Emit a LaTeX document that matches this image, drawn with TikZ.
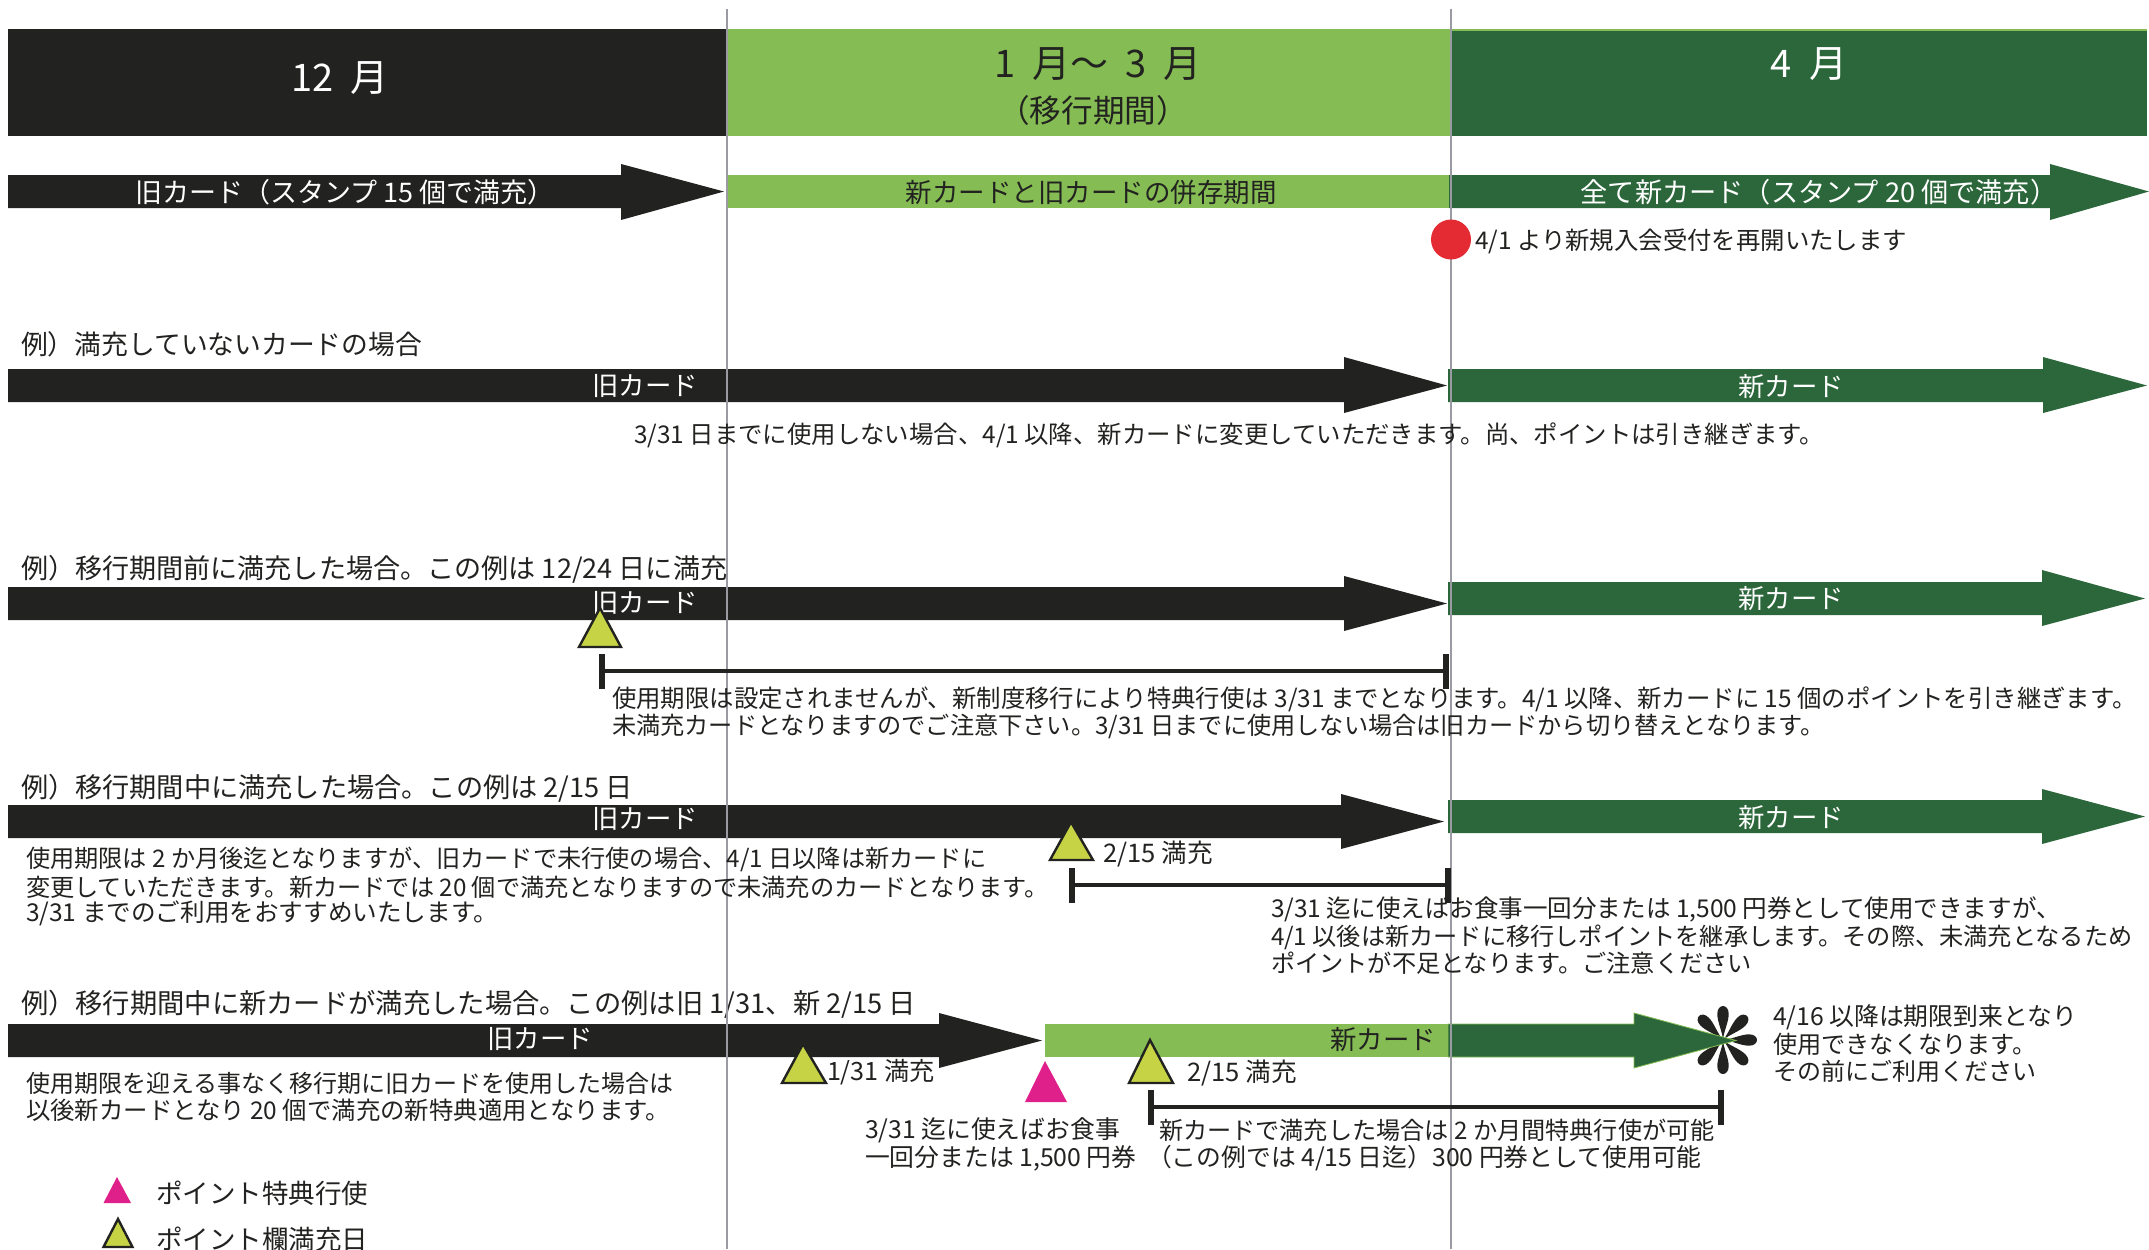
\documentclass[tikz,border=0pt]{standalone}
\usepackage{fontspec}
\setmainfont{Noto Sans CJK JP}
\definecolor{ink}{HTML}{222220}
\definecolor{lgreen}{HTML}{85BD54}
\definecolor{dgreen}{HTML}{2C673B}
\definecolor{olive}{HTML}{C5D345}
\definecolor{redd}{HTML}{E42A32}
\definecolor{magen}{HTML}{E0208A}
\definecolor{greyl}{HTML}{9A9AA2}
\tikzset{
  x=0.5pt,y=-0.5pt,
  fs/.style={font=\fontsize{#1pt}{#1pt}\selectfont},
  lab/.style={inner sep=0pt,outer sep=0pt,anchor=west,text=ink,yshift=-0.6pt,fs=12.2},
  labc/.style={lab,anchor=center},
  wlab/.style={labc,text=white,fs=13.2,yshift=0.5pt},
  dlab/.style={labc,text=ink,fs=13.2,yshift=0.5pt},
  ttl/.style={lab,fs=13.4},
  bigw/.style={labc,text=white,fs=19},
  bigd/.style={labc,text=ink,fs=19},
  guide/.style={draw=greyl,line width=1pt},
  vtick/.style={draw=ink,line width=2.7pt},
  hbar/.style={draw=ink,line width=1.6pt},
  fulltri/.style={fill=olive,draw=ink,line width=1.2pt},
  magtri/.style={fill=magen},
  petal/.style={fill=ink},
}
\newcommand{\arrowshape}[7]{% x0 xhead xtip ytop ybot headtop headbot
  (#1,#4) -- (#2,#4) -- (#2,#6) -- (#3,{(#4+#5)/2}) -- (#2,#7) -- (#2,#5) -- (#1,#5) -- cycle}
\newcommand{\gp}{\hspace{.45em}}
\begin{document}
\begin{tikzpicture}
\useasboundingbox (0,0) rectangle (2149,1249);
% header bands
\fill[ink] (8,29) rectangle (727,136);
\fill[lgreen] (727,29) rectangle (1451,136);
\fill[lgreen] (1451,29) rectangle (2147,31);
\fill[dgreen] (1451,31) rectangle (2147,136);
\node[bigw] (h1) at (340,77) {12\gp 月};
\node[bigd] (h2) at (1098,63) {1\gp 月～\gp 3\gp 月};
\node[labc,fs=15.8] (h2b) at (1093,109) {（移行期間）};
\node[bigw] (h3) at (1809,63) {4\gp 月};
% row 1
\fill[ink] \arrowshape{8}{621}{724}{175}{208}{164}{220};
\fill[lgreen] (727,175) rectangle (1449,208);
\fill[dgreen] \arrowshape{1449}{2050}{2149}{175}{208}{164}{220};
\node[wlab,fs=13.5] (r1a) at (345,192) {旧カード（スタンプ 15 個で満充）};
\node[dlab,fs=13.25] (r1b) at (1091,192) {新カードと旧カードの併存期間};
\node[wlab,fs=13.6] (r1c) at (1819,192) {全て新カード（スタンプ 20 個で満充）};
% row 2
\node[ttl] (t2) at (21,343) {例）満充していないカードの場合};
\fill[ink] \arrowshape{8}{1344}{1447}{369}{402}{357}{413};
\fill[dgreen] \arrowshape{1448}{2043}{2147}{369}{402}{357}{413};
\node[wlab] (r2a) at (645,386) {旧カード};
\node[wlab] (r2b) at (1791,386) {新カード};
% row 3
\node[ttl,fs=13.55] (t3) at (21,568) {例）移行期間前に満充した場合。この例は 12/24 日に満充};
\fill[ink] \arrowshape{8}{1344}{1447}{587}{620}{576}{631};
\fill[dgreen] \arrowshape{1448}{2042}{2145}{582}{615}{570}{626};
\node[wlab] (r3a) at (645,603) {旧カード};
\node[wlab] (r3b) at (1791,598) {新カード};
% row 4
\node[ttl,fs=13.6] (t4) at (21,787) {例）移行期間中に満充した場合。この例は 2/15 日};
\fill[ink] \arrowshape{8}{1341}{1444}{805}{838}{794}{849};
\fill[dgreen] \arrowshape{1448}{2042}{2145}{800}{833}{789}{844};
\node[wlab] (r4a) at (645,819) {旧カード};
\node[wlab] (r4b) at (1791,817) {新カード};
% row 5
\node[ttl,fs=13.65] (t5) at (21,1003) {例）移行期間中に新カードが満充した場合。この例は旧 1/31、新 2/15 日};
\fill[ink] \arrowshape{8}{939}{1042}{1024}{1057}{1013}{1068};
\fill[lgreen] (1045,1024) rectangle (1448,1057);
% star
\foreach \a in {0,45,...,315}{
  \fill[petal,rotate around={\a:(1723,1040)}] (1723,1040) .. controls (1722.5,1032) and (1717.3,1022) .. (1717.3,1014) .. controls (1717.3,1009) and (1720,1006) .. (1723,1006) .. controls (1726,1006) and (1728.7,1009) .. (1728.7,1014) .. controls (1728.7,1022) and (1723.5,1032) .. (1723,1040) -- cycle;
}
\path[fill=dgreen,draw=lgreen,line width=0.4pt] \arrowshape{1448}{1634}{1736}{1024}{1057}{1013}{1068};
\fill[lgreen] (1447,1024) rectangle (1448,1057);
\node[wlab] (r5a) at (540,1039) {旧カード};
\node[dlab] (r5b) at (1383,1039) {新カード};
% guides
\draw[guide] (727,9) -- (727,1249);
\draw[guide] (1451,9) -- (1451,1249);
\fill[redd] (1451,239.5) circle[radius=20];
% texts
\node[lab] (n1) at (1475,240) {4/1 より新規入会受付を再開いたします};
\node[lab] (n2) at (634,434) {3/31 日までに使用しない場合、4/1 以降、新カードに変更していただきます。尚、ポイントは引き継ぎます。};
\node[lab] (n3) at (612,698) {使用期限は設定されませんが、新制度移行により特典行使は 3/31 までとなります。4/1 以降、新カードに 15 個のポイントを引き継ぎます。};
\node[lab,fs=12.1] (n3b) at (612,725) {未満充カードとなりますのでご注意下さい。3/31 日までに使用しない場合は旧カードから切り替えとなります。};
\node[lab,fs=12.1] (n4a) at (26,858) {使用期限は 2 か月後迄となりますが、旧カードで未行使の場合、4/1 日以降は新カードに};
\node[lab,fs=12.1] (n4b) at (26,886) {変更していただきます。新カードでは 20 個で満充となりますので未満充のカードとなります。};
\node[lab,fs=12.3] (n4c) at (26,912) {3/31 までのご利用をおすすめいたします。};
\node[lab,fs=12.8] (n4d) at (1103,853) {2/15 満充};
\node[lab,fs=12.27] (n4e) at (1271,908) {3/31 迄に使えばお食事一回分または 1,500 円券として使用できますが、};
\node[lab,fs=12.1] (n4f) at (1271,936) {4/1 以後は新カードに移行しポイントを継承します。その際、未満充となるため};
\node[lab,fs=12.1] (n4g) at (1271,962) {ポイントが不足となります。ご注意ください};
\node[lab,fs=12] (n5a) at (26,1082) {使用期限を迎える事なく移行期に旧カードを使用した場合は};
\node[lab] (n5b) at (26,1109) {以後新カードとなり 20 個で満充の新特典適用となります。};
\node[lab,fs=12.6] (n5c) at (827,1071) {1/31 満充};
\node[lab,fs=12.8] (n5d) at (1187,1072) {2/15 満充};
\node[lab,fs=12.4] (n5e) at (865,1129) {3/31 迄に使えばお食事};
\node[lab,fs=12.4] (n5f) at (865,1157) {一回分または 1,500 円券};
\node[lab,fs=12.08] (n5g) at (1159,1129) {新カードで満充した場合は 2 か月間特典行使が可能};
\node[lab,fs=12.4] (n5h) at (1147,1157) {（この例では 4/15 日迄）300 円券として使用可能};
\node[lab,fs=12.4] (n5i) at (1773,1016) {4/16 以降は期限到来となり};
\node[lab,fs=12.1] (n5j) at (1773,1043) {使用できなくなります。};
\node[lab,fs=12] (n5k) at (1773,1070) {その前にご利用ください};
\node[ttl,fs=13.25] (l1) at (156,1192) {ポイント特典行使};
\node[ttl,fs=13.25] (l2) at (156,1238) {ポイント欄満充日};
% triangles
\path[fulltri] (600,608) -- (621,647) -- (579,647) -- cycle;
\path[fulltri] (1071,822) -- (1093,860) -- (1050,860) -- cycle;
\path[fulltri] (803,1044) -- (826,1083) -- (782,1083) -- cycle;
\path[fulltri] (1150,1040) -- (1173,1083) -- (1129,1083) -- cycle;
\path[fulltri] (118,1219) -- (132.5,1247) -- (103.5,1247) -- cycle;
\fill[magtri] (1045,1061) -- (1067,1102) -- (1025,1102) -- cycle;
\fill[magtri] (117,1177) -- (131,1203) -- (103.5,1203) -- cycle;
% brackets
\coordinate (b1l) at (602,671); \coordinate (b1r) at (1446,671);
\draw[hbar] (b1l) -- (b1r);
\draw[vtick] (602,654) -- (602,689);
\draw[vtick] (1446,654) -- (1446,689);
\coordinate (b2l) at (1072,885); \coordinate (b2r) at (1448,885);
\draw[hbar] (b2l) -- (b2r);
\draw[vtick] (1072,868) -- (1072,903);
\draw[vtick] (1448,868) -- (1448,903);
\coordinate (b3l) at (1151,1107); \coordinate (b3r) at (1721,1107);
\draw[hbar] (b3l) -- (b3r);
\draw[vtick] (1151,1090) -- (1151,1125);
\draw[vtick] (1721,1090) -- (1721,1125);
\end{tikzpicture}
\end{document}
